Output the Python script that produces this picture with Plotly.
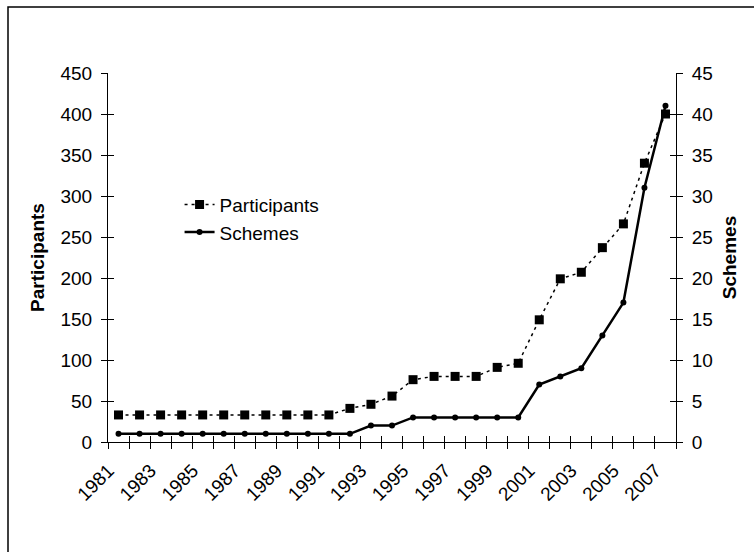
import plotly.graph_objects as go

# Years on the category axis
years = list(range(1981, 2008))
# Number of participants (left axis)
participants = [33, 33, 33, 33, 33, 33, 33, 33, 33, 33, 33,
                41, 46, 56, 76, 80, 80, 80, 91, 96,
                149, 199, 207, 237, 266, 340, 400]
# Number of schemes (right axis)
schemes = [1, 1, 1, 1, 1, 1, 1, 1, 1, 1, 1, 1,
           2, 2, 3, 3, 3, 3, 3, 3,
           7, 8, 9, 13, 17, 31, 41]

label_years = [y for y in years if (y - 1981) % 2 == 0]
label_text = [str(y) for y in label_years]
boundaries = [y - 0.5 for y in years] + [years[-1] + 0.5]

FONT = "Liberation Sans, Arial, sans-serif"
FS = 19
xr = [years[0] - 0.5, years[-1] + 0.5]

fig = go.Figure()

fig.add_trace(go.Scatter(
    x=years, y=participants, name="Participants", mode="lines+markers",
    line=dict(color="black", width=1.5, dash="3px,4px"),
    marker=dict(symbol="square", size=9, color="black"),
    xaxis="x", yaxis="y",
))
fig.add_trace(go.Scatter(
    x=years, y=schemes, name="Schemes", mode="lines+markers",
    line=dict(color="black", width=2.5),
    marker=dict(symbol="circle", size=6, color="black"),
    xaxis="x", yaxis="y2",
))

# empty traces so the tick-only overlay axes are drawn
for xa, ya in [("x2", "y"), ("x3", "y"), ("x", "y3"), ("x", "y4")]:
    fig.add_trace(go.Scatter(x=[None], y=[None], xaxis=xa, yaxis=ya,
                             showlegend=False, hoverinfo="skip"))

tick_font = dict(family=FONT, size=FS, color="black")

fig.update_layout(
    width=754, height=552,
    margin=dict(l=108, r=78, t=73, b=110),
    paper_bgcolor="white", plot_bgcolor="white",
    font=dict(family=FONT, size=FS, color="black"),
    showlegend=True,
    legend=dict(x=0.126, y=0.695, xanchor="left", yanchor="top",
                bgcolor="rgba(0,0,0,0)", font=dict(family=FONT, size=FS),
                tracegroupgap=0),
    xaxis=dict(range=xr, tickmode="array", tickvals=label_years, ticktext=label_text,
               tickangle=-45, ticks="", showline=True, linecolor="black", linewidth=1,
               showgrid=False, zeroline=False, tickfont=tick_font, anchor="y",
               ticklabelstandoff=9, ticklabelshift=-10),
    xaxis2=dict(range=xr, overlaying="x", anchor="y", side="bottom",
                tickmode="array", tickvals=boundaries, ticks="outside", ticklen=6,
                tickcolor="black", showticklabels=False, showline=False,
                showgrid=False, zeroline=False),
    xaxis3=dict(range=xr, overlaying="x", anchor="y", side="bottom",
                tickmode="array", tickvals=boundaries, ticks="inside", ticklen=6,
                tickcolor="black", showticklabels=False, showline=False,
                showgrid=False, zeroline=False),
    yaxis=dict(range=[0, 450], dtick=50, tick0=0, ticks="outside", ticklen=6,
               tickcolor="black", showline=True, linecolor="black", linewidth=1,
               showgrid=False, zeroline=False, tickfont=tick_font, ticklabelstandoff=5,
               title=dict(text="<b>Participants</b>", font=dict(family=FONT, size=FS),
                          standoff=10),
               anchor="x", side="left"),
    yaxis2=dict(range=[0, 45], dtick=5, tick0=0, ticks="outside", ticklen=6,
                tickcolor="black", showline=True, linecolor="black", linewidth=1,
                showgrid=False, zeroline=False, tickfont=tick_font, ticklabelstandoff=5,
                title=dict(text="<b>Schemes</b>", font=dict(family=FONT, size=FS),
                           standoff=10),
                overlaying="y", anchor="x", side="right"),
    yaxis3=dict(range=[0, 450], dtick=50, tick0=0, ticks="inside", ticklen=6,
                tickcolor="black", showticklabels=False, showline=False,
                showgrid=False, zeroline=False, overlaying="y", anchor="x", side="left"),
    yaxis4=dict(range=[0, 45], dtick=5, tick0=0, ticks="inside", ticklen=6,
                tickcolor="black", showticklabels=False, showline=False,
                showgrid=False, zeroline=False, overlaying="y", anchor="x", side="right"),
    shapes=[dict(type="rect", xref="paper", yref="paper",
                 x0=(8 - 108) / 568, x1=(770 - 108) / 568,
                 y0=(442 - 570) / 369, y1=(442 - 7) / 369,
                 line=dict(color="black", width=1.5), fillcolor="rgba(0,0,0,0)",
                 layer="below")],
)

fig.write_html("out.html")
